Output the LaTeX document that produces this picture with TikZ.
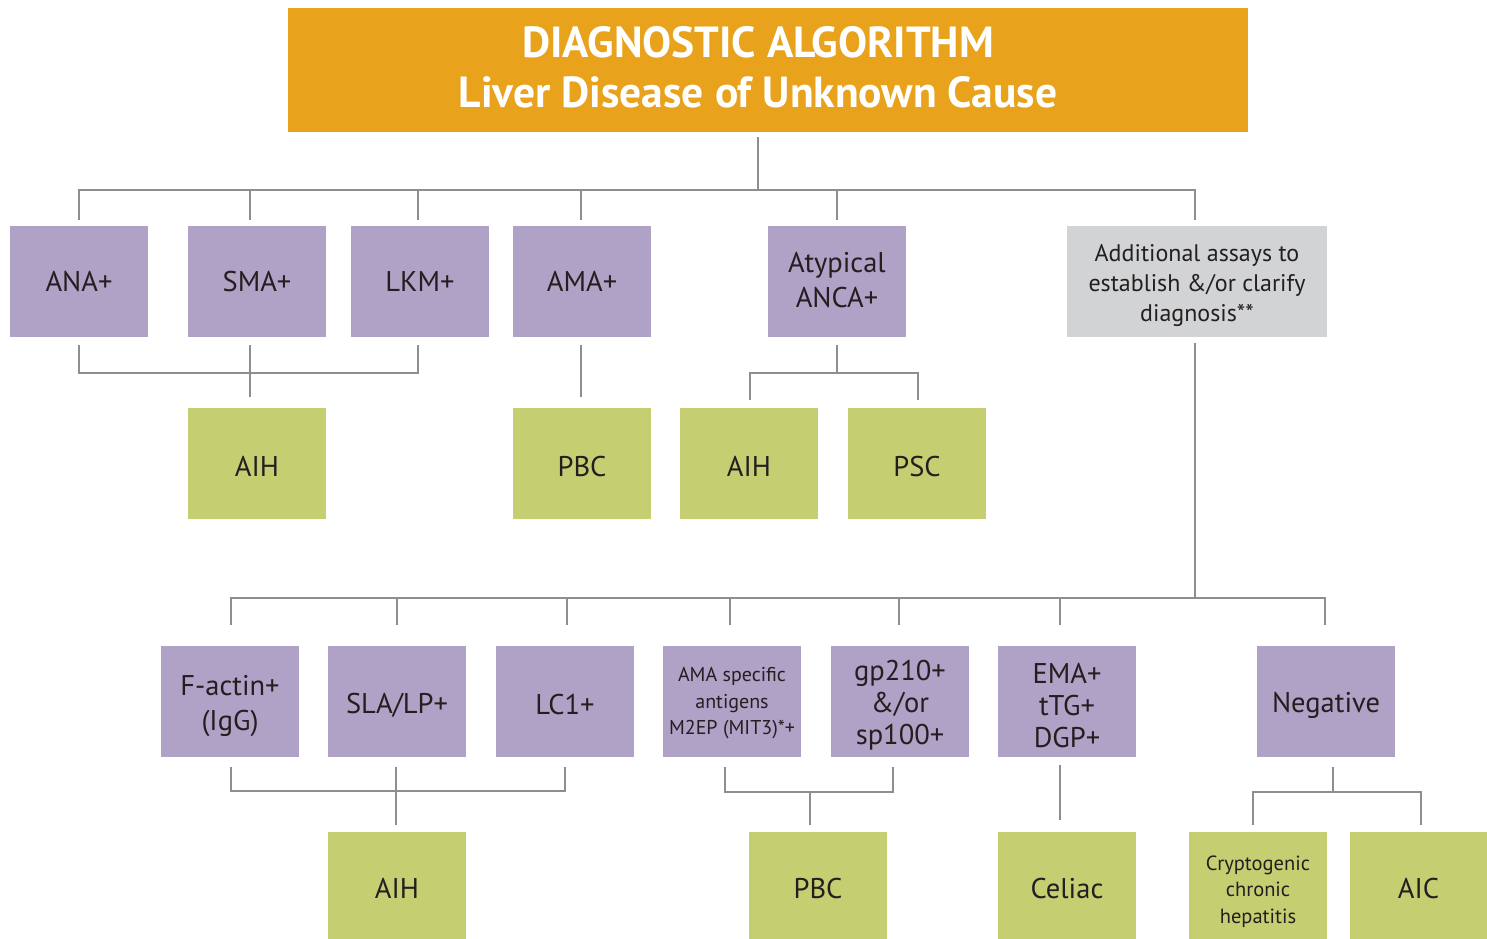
\documentclass[tikz,border=0pt]{standalone}
\usepackage{fontspec}
\setmainfont{PT Sans}
\definecolor{orangeT}{HTML}{E8A21C}
\definecolor{purp}{HTML}{B0A1C6}
\definecolor{grn}{HTML}{C5CE71}
\definecolor{gry}{HTML}{D1D3D4}
\definecolor{lin}{HTML}{8E8E8E}
\definecolor{txt}{HTML}{231F20}
\tikzset{
  box/.style={rectangle, inner sep=0pt, minimum width=138pt, minimum height=111pt},
  pbox/.style={box, fill=purp},
  gbox/.style={box, fill=grn},
  lbl/.style={inner sep=0pt, align=center, text=txt, font=\fontsize{28.5}{35}\selectfont},
  conn/.style={draw=lin, line width=1.5pt},
}
% #1 box style, #2 name, #3 position, #4 downward text shift, #5 label style, #6 text
\newcommand\mkbox[6]{%
  \node[#1] (#2) at (#3) {};
  \node[lbl,#5] (#2t) at ([yshift=-#4pt]#2.center) {#6};}
\begin{document}
\begin{tikzpicture}[x=1pt,y=-1pt]
\clip (0,0) rectangle (1487,938);
\fill[white] (0,0) rectangle (1487,938);
% title
\mkbox{box, fill=orangeT, minimum width=960pt, minimum height=124pt}{title}{768,70}{-3}{xshift=-10pt, text=white, font=\fontsize{43.5}{50}\selectfont\bfseries}{DIAGNOSTIC ALGORITHM\\Liver Disease of Unknown Cause}
% row 1
\mkbox{pbox}{ana}{79,281.5}{0}{}{ANA+}
\mkbox{pbox}{sma}{257,281.5}{0}{}{SMA+}
\mkbox{pbox}{lkm}{420,281.5}{0}{}{LKM+}
\mkbox{pbox}{ama}{582,281.5}{0}{}{AMA+}
\mkbox{pbox}{anca}{837,281.5}{-1}{}{Atypical\\ANCA+}
\mkbox{box, fill=gry, minimum width=260pt}{add}{1197,281.5}{4}{font=\fontsize{24}{30}\selectfont}{Additional assays to\\establish \&/or clarify\\diagnosis**}
% row 2
\mkbox{gbox}{aih1}{257,463.5}{3}{}{AIH}
\mkbox{gbox}{pbc1}{582,463.5}{3}{}{PBC}
\mkbox{gbox}{aih2}{749,463.5}{3}{}{AIH}
\mkbox{gbox}{psc}{917,463.5}{3}{}{PSC}
% row 3
\mkbox{pbox}{fact}{230,701.5}{5}{}{F-actin+\\(IgG)}
\mkbox{pbox}{sla}{397,701.5}{4}{}{SLA/LP+}
\mkbox{pbox}{lc1}{565,701.5}{3}{}{LC1+}
\mkbox{pbox}{amas}{732,701.5}{2}{font=\fontsize{20}{26.5}\selectfont}{AMA specific\\antigens\\M2EP (MIT3)*+}
\mkbox{pbox}{gp}{900,701.5}{4}{font=\fontsize{28.5}{32}\selectfont}{gp210+\\\&/or\\sp100+}
\mkbox{pbox}{ema}{1067,701.5}{4}{font=\fontsize{28.5}{32}\selectfont}{EMA+\\tTG+\\DGP+}
\mkbox{pbox}{neg}{1326,701.5}{4}{}{Negative}
% row 4
\mkbox{gbox}{aih3}{397,887.5}{1}{}{AIH}
\mkbox{gbox}{pbc2}{818,887.5}{1}{}{PBC}
\mkbox{gbox}{cel}{1067,887.5}{1}{}{Celiac}
\mkbox{gbox}{cry}{1258,887.5}{4}{font=\fontsize{20.5}{26.5}\selectfont}{Cryptogenic\\chronic\\hepatitis}
\mkbox{gbox}{aic}{1418.5,887.5}{1}{}{AIC}
% bus coordinates
\coordinate (tb) at (758,190);
\coordinate (b1) at (250,373);
\coordinate (b2) at (837,373);
\coordinate (b3) at (1195,598);
\coordinate (b4) at (396,791);
\coordinate (b5) at (810,792);
\coordinate (b6) at (1333,792);
% top connectors
\draw[conn] ([yshift=-5pt]title.south -| tb) -- (tb);
\draw[conn] ([yshift=6pt]ana.north) |- ([xshift=-2pt]add.north |- tb) -- ([xshift=-2pt,yshift=6pt]add.north);
\draw[conn] ([xshift=-7pt,yshift=6pt]sma.north) -- ([xshift=-7pt]sma.north |- tb);
\draw[conn] ([xshift=-2pt,yshift=6pt]lkm.north) -- ([xshift=-2pt]lkm.north |- tb);
\draw[conn] ([xshift=-1pt,yshift=6pt]ama.north) -- ([xshift=-1pt]ama.north |- tb);
\draw[conn] ([yshift=6pt]anca.north) -- (anca.north |- tb);
% row1 -> row2
\draw[conn] ([yshift=-8pt]ana.south) |- ([xshift=-2pt]lkm.south |- b1) -- ([xshift=-2pt,yshift=-8pt]lkm.south);
\draw[conn] ([xshift=-7pt,yshift=-8pt]sma.south) -- ([xshift=-7pt,yshift=11pt]aih1.north);
\draw[conn] ([xshift=-1pt,yshift=-8pt]ama.south) -- ([xshift=-1pt,yshift=11pt]pbc1.north);
\draw[conn] ([yshift=-8pt]anca.south) -- (b2);
\draw[conn] ([xshift=1pt,yshift=8pt]aih2.north) |- ([xshift=1pt]psc.north |- b2) -- ([xshift=1pt,yshift=8pt]psc.north);
% additional -> bottom bus
\draw[conn] ([xshift=-2pt,yshift=-6pt]add.south) -- (b3);
\draw[conn] ([xshift=1pt,yshift=21pt]fact.north) |- ([xshift=-1pt]neg.north |- b3) -- ([xshift=-1pt,yshift=21pt]neg.north);
\draw[conn] ([yshift=21pt]sla.north) -- (sla.north |- b3);
\draw[conn] ([xshift=2pt,yshift=21pt]lc1.north) -- ([xshift=2pt]lc1.north |- b3);
\draw[conn] ([xshift=-2pt,yshift=21pt]amas.north) -- ([xshift=-2pt]amas.north |- b3);
\draw[conn] ([xshift=-1pt,yshift=21pt]gp.north) -- ([xshift=-1pt]gp.north |- b3);
\draw[conn] ([xshift=-7pt,yshift=21pt]ema.north) -- ([xshift=-7pt]ema.north |- b3);
% row3 -> row4
\draw[conn] ([xshift=1pt,yshift=-10pt]fact.south) |- (b4) -| ([yshift=-10pt]lc1.south);
\draw[conn] ([xshift=-1pt,yshift=-10pt]sla.south) -- ([xshift=-1pt,yshift=7pt]aih3.north);
\draw[conn] ([xshift=-7pt,yshift=-10pt]amas.south) |- (b5) -| ([xshift=-7pt,yshift=-10pt]gp.south);
\draw[conn] (b5) -- ([xshift=-8pt,yshift=7pt]pbc2.north);
\draw[conn] ([xshift=-7pt,yshift=-8pt]ema.south) -- ([xshift=-7pt,yshift=12pt]cel.north);
\draw[conn] ([xshift=7pt,yshift=-10pt]neg.south) -- (b6);
\draw[conn] ([xshift=-5pt,yshift=7pt]cry.north) |- (b6) -| ([xshift=2.5pt,yshift=7pt]aic.north);
\end{tikzpicture}
\end{document}
